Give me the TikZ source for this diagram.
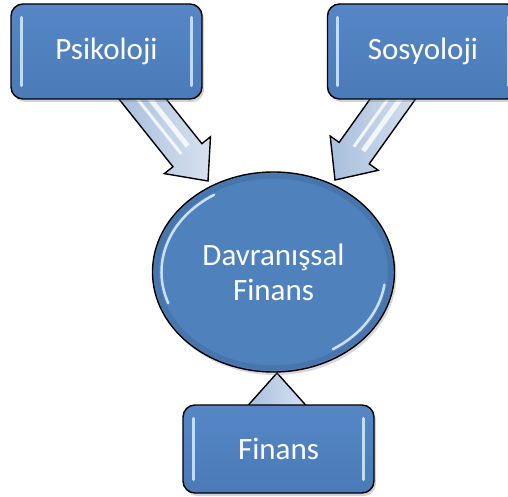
\documentclass[tikz,border=0pt]{standalone}
\usepackage{fontspec}
\setmainfont{Carlito}
\usetikzlibrary{calc,shapes.geometric,shadows}
\definecolor{boxblue}{HTML}{4F81BD}
\definecolor{boxtop}{HTML}{5686C6}
\definecolor{boxbot}{HTML}{4A7BB7}
\definecolor{arrowblue}{HTML}{BCCEE6}
\definecolor{arrowdark}{HTML}{A9BFDD}
\definecolor{hilite}{HTML}{D6ECFF}
\tikzset{
  blockbox/.style={draw=black, line width=1.4pt, rounded corners=12pt,
    top color=boxtop, bottom color=boxbot, text=white,
    minimum width=191pt, minimum height=95pt, font=\fontsize{31}{36}\selectfont,
    drop shadow={opacity=0.35, shadow xshift=2pt, shadow yshift=-3pt}},
  centreell/.style={ellipse, draw=black, line width=1.4pt, fill=boxblue, text=white, align=center,
    minimum width=242pt, minimum height=200pt, font=\fontsize{31}{35}\selectfont,
    drop shadow={opacity=0.3, shadow xshift=2pt, shadow yshift=-3pt}},
  bevel/.style={draw=hilite, line width=3pt, line cap=round, opacity=0.85},
  arrowbody/.style={draw=black, line width=1.4pt, line join=miter, left color=arrowdark, right color=arrowblue!60!white},
  stripe/.style={draw=white, line width=5pt, opacity=0.8},
  shine/.style={draw=hilite, line width=2.5pt, line cap=round, opacity=0.9}
}
% block arrow from #1 (start) to #2 (tip)
\newcommand\blockarrow[2]{%
  \filldraw[arrowbody]
    ($(#1)!18.5pt!90:(#2)$) --
    ($($(#2)!33pt!(#1)$)!18.5pt!-90:(#1)$) --
    ($($(#2)!33pt!(#1)$)!29.5pt!-90:(#1)$) --
    (#2) --
    ($($(#2)!33pt!(#1)$)!29.5pt!90:(#1)$) --
    ($($(#2)!33pt!(#1)$)!18.5pt!90:(#1)$) --
    ($(#1)!18.5pt!-90:(#2)$) -- cycle;
  \draw[stripe] ($(#1)!6pt!90:(#2)$) -- ($($(#2)!40pt!(#1)$)!6pt!-90:(#1)$);
  \draw[stripe,line width=3pt] ($(#1)!-4pt!90:(#2)$) -- ($($(#2)!38pt!(#1)$)!4pt!90:(#1)$);
}
\begin{document}
\begin{tikzpicture}[x=1pt,y=-1pt]
\useasboundingbox (0,0) rectangle (508,497);
% arrow coordinates
\coordinate (s1) at (133,87);
\coordinate (t1) at (208,181);
\coordinate (s2) at (410,75);
\coordinate (t2) at (335,180);
\coordinate (s3) at (277,430);
\coordinate (t3) at (277,373);
\blockarrow{s1}{t1}
\blockarrow{s2}{t2}
\blockarrow{s3}{t3}
% boxes
\node[blockbox] (psi) at (106.5,51.5) {Psikoloji};
\node[blockbox] (sos) at (423,51.5) {Sosyoloji};
\node[blockbox, minimum height=88pt] (fin) at (278.5,449) {Finans};
\foreach \b in {psi,sos,fin}{
  \draw[bevel] ([xshift=11pt,yshift=-14pt]\b.north west) -- ([xshift=11pt,yshift=14pt]\b.south west);
  \draw[bevel] ([xshift=-11pt,yshift=-14pt]\b.north east) -- ([xshift=-11pt,yshift=14pt]\b.south east);
}
% centre ellipse
\node[centreell] (df) at (273.5,272) {Davranışsal\\Finans};
\begin{scope}[shift={(df.center)}, x=1pt, y=1pt]
  \draw[boxblue!75!black, line width=5pt, opacity=0.35] (0,0) ellipse[x radius=117pt, y radius=96pt];
  \draw[shine] (200:112pt and 91pt) arc[start angle=200, end angle=122, x radius=112pt, y radius=91pt];
  \draw[shine] (-8:112pt and 91pt) arc[start angle=-8, end angle=-58, x radius=112pt, y radius=91pt];
\end{scope}
\end{tikzpicture}
\end{document}
